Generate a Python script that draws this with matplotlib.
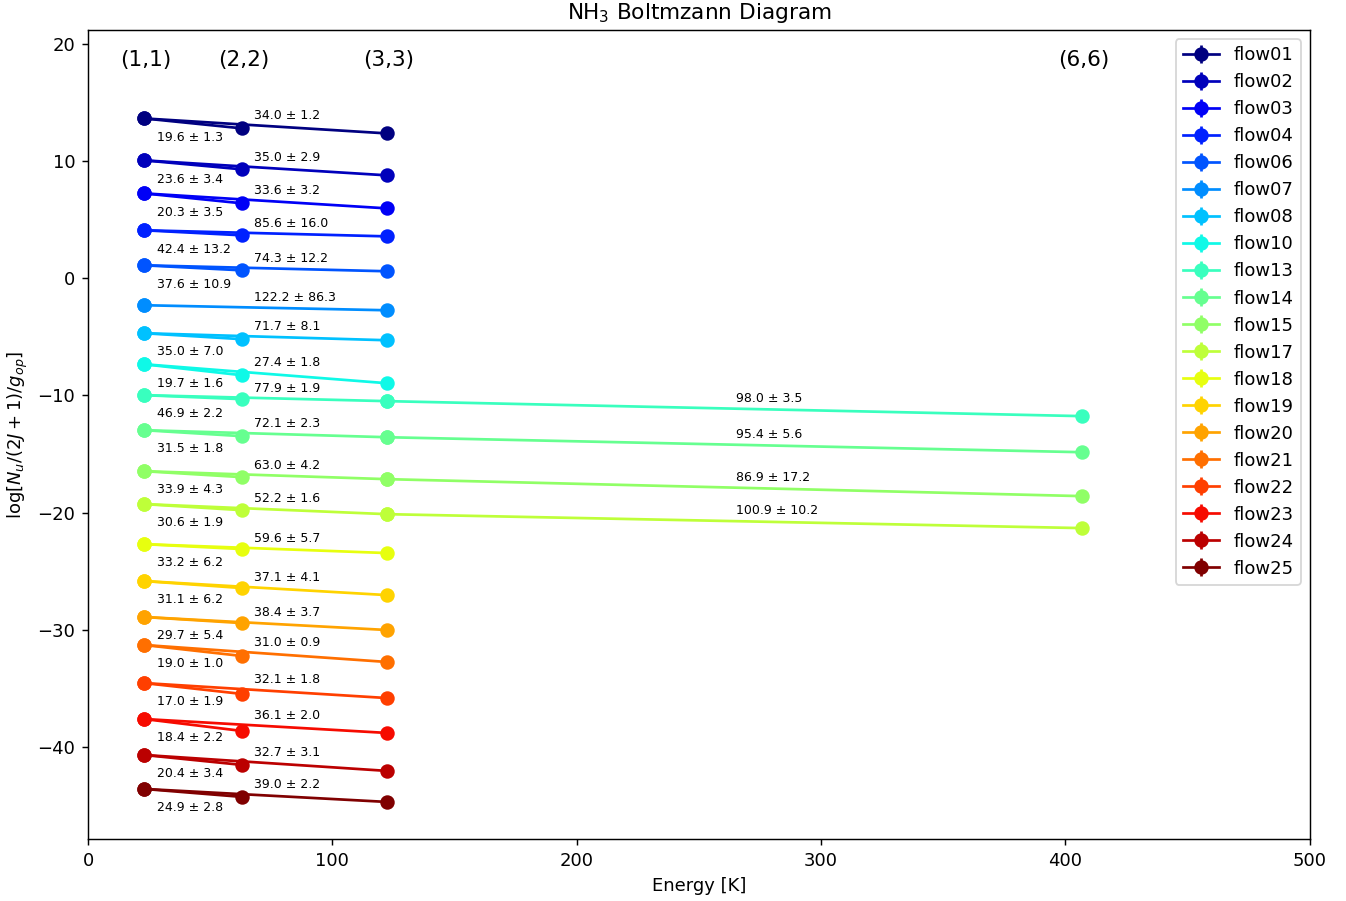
import matplotlib
matplotlib.use("Agg")
import matplotlib.pyplot as plt
import numpy as np

# upper-state energies of the NH3 inversion lines [K]
trans = ["(1,1)", "(2,2)", "(3,3)", "(6,6)"]
energy = [23.0, 63.1, 122.4, 406.9]

flows = ["flow01", "flow02", "flow03", "flow04", "flow06", "flow07", "flow08",
         "flow10", "flow13", "flow14", "flow15", "flow17", "flow18", "flow19",
         "flow20", "flow21", "flow22", "flow23", "flow24", "flow25"]

# log column density per level, None = line not detected
y11 = [13.65, 10.07, 7.25, 4.10, 1.11, -2.30, -4.69, -7.34, -9.98, -12.97,
       -16.47, -19.28, -22.70, -25.85, -28.92, -31.31, -34.56, -37.63, -40.70, -43.60]
y22 = [12.80, 9.30, 6.40, 3.67, 0.68, None, -5.20, -8.28, -10.32, -13.48,
       -16.98, -19.80, -23.12, -26.45, -29.44, -32.25, -35.49, -38.65, -41.55, -44.28]
y33 = [12.37, 8.79, 5.97, 3.58, 0.60, -2.73, -5.29, -8.96, -10.49, -13.57,
       -17.15, -20.14, -23.46, -27.05, -30.03, -32.76, -35.84, -38.82, -42.06, -44.71]
y66 = [None, None, None, None, None, None, None, None, -11.77, -14.85,
       -18.60, -21.33, None, None, None, None, None, None, None, None]

# rotational temperatures from the fits
t12 = ["19.6 ± 1.3", "23.6 ± 3.4", "20.3 ± 3.5", "42.4 ± 13.2", "37.6 ± 10.9", None,
       "35.0 ± 7.0", "19.7 ± 1.6", "46.9 ± 2.2", "31.5 ± 1.8", "33.9 ± 4.3",
       "30.6 ± 1.9", "33.2 ± 6.2", "31.1 ± 6.2", "29.7 ± 5.4", "19.0 ± 1.0",
       "17.0 ± 1.9", "18.4 ± 2.2", "20.4 ± 3.4", "24.9 ± 2.8"]
t13 = ["34.0 ± 1.2", "35.0 ± 2.9", "33.6 ± 3.2", "85.6 ± 16.0", "74.3 ± 12.2",
       "122.2 ± 86.3", "71.7 ± 8.1", "27.4 ± 1.8", "77.9 ± 1.9", "72.1 ± 2.3",
       "63.0 ± 4.2", "52.2 ± 1.6", "59.6 ± 5.7", "37.1 ± 4.1", "38.4 ± 3.7",
       "31.0 ± 0.9", "32.1 ± 1.8", "36.1 ± 2.0", "32.7 ± 3.1", "39.0 ± 2.2"]
t36 = [None, None, None, None, None, None, None, None, "98.0 ± 3.5", "95.4 ± 5.6",
       "86.9 ± 17.2", "100.9 ± 10.2", None, None, None, None, None, None, None, None]
yerr = 0.1

colors = plt.cm.jet(np.linspace(0, 1, len(flows)))

fig = plt.figure(figsize=(1346 / 130, 901 / 130), dpi=130)
ax = fig.add_axes([88 / 1346, 61.7 / 901, 1221.7 / 1346, 809.3 / 901])

E11, E22, E33, E66 = energy
for i, name in enumerate(flows):
    c = colors[i]
    kw = dict(yerr=yerr, fmt="o-", color=c, ms=7)
    # (1,1)-(2,2) pair
    if y22[i] is not None:
        ax.errorbar([E11, E22], [y11[i], y22[i]], label=name, **kw)
    else:
        ax.errorbar([E11], [y11[i]], label=name, **kw)
    # (1,1)-(3,3) pair
    ax.errorbar([E11, E33], [y11[i], y33[i]], **kw)
    # (3,3)-(6,6) pair
    if y66[i] is not None:
        ax.errorbar([E33, E66], [y33[i], y66[i]], **kw)

    if t12[i] is not None:
        ax.text(28.3, y11[i] - 1.6, t12[i], fontsize="x-small", ha="left", va="center")
    ymid = np.interp(E22, [E11, E33], [y11[i], y33[i]])
    ax.text(68, ymid + 0.8, t13[i], fontsize="x-small", ha="left", va="center")
    if t36[i] is not None:
        ax.text(265, (y33[i] + y66[i]) / 2 + 0.87, t36[i], fontsize="x-small",
                ha="left", va="center")

for e, t in zip(energy, trans):
    ax.text(e + 0.7, 18.6, t, fontsize="large", ha="center", va="center")

ax.set_xlim(0, 500)
ax.set_ylim(-47.9, 21.2)
ax.set_xlabel("Energy [K]")
ax.set_ylabel(r"$\log[N_u/(2J+1)/g_{op}]$")
ax.set_title(r"NH$_3$ Boltmzann Diagram")
ax.legend(loc="upper right")

fig.savefig("out.png", dpi=130)
